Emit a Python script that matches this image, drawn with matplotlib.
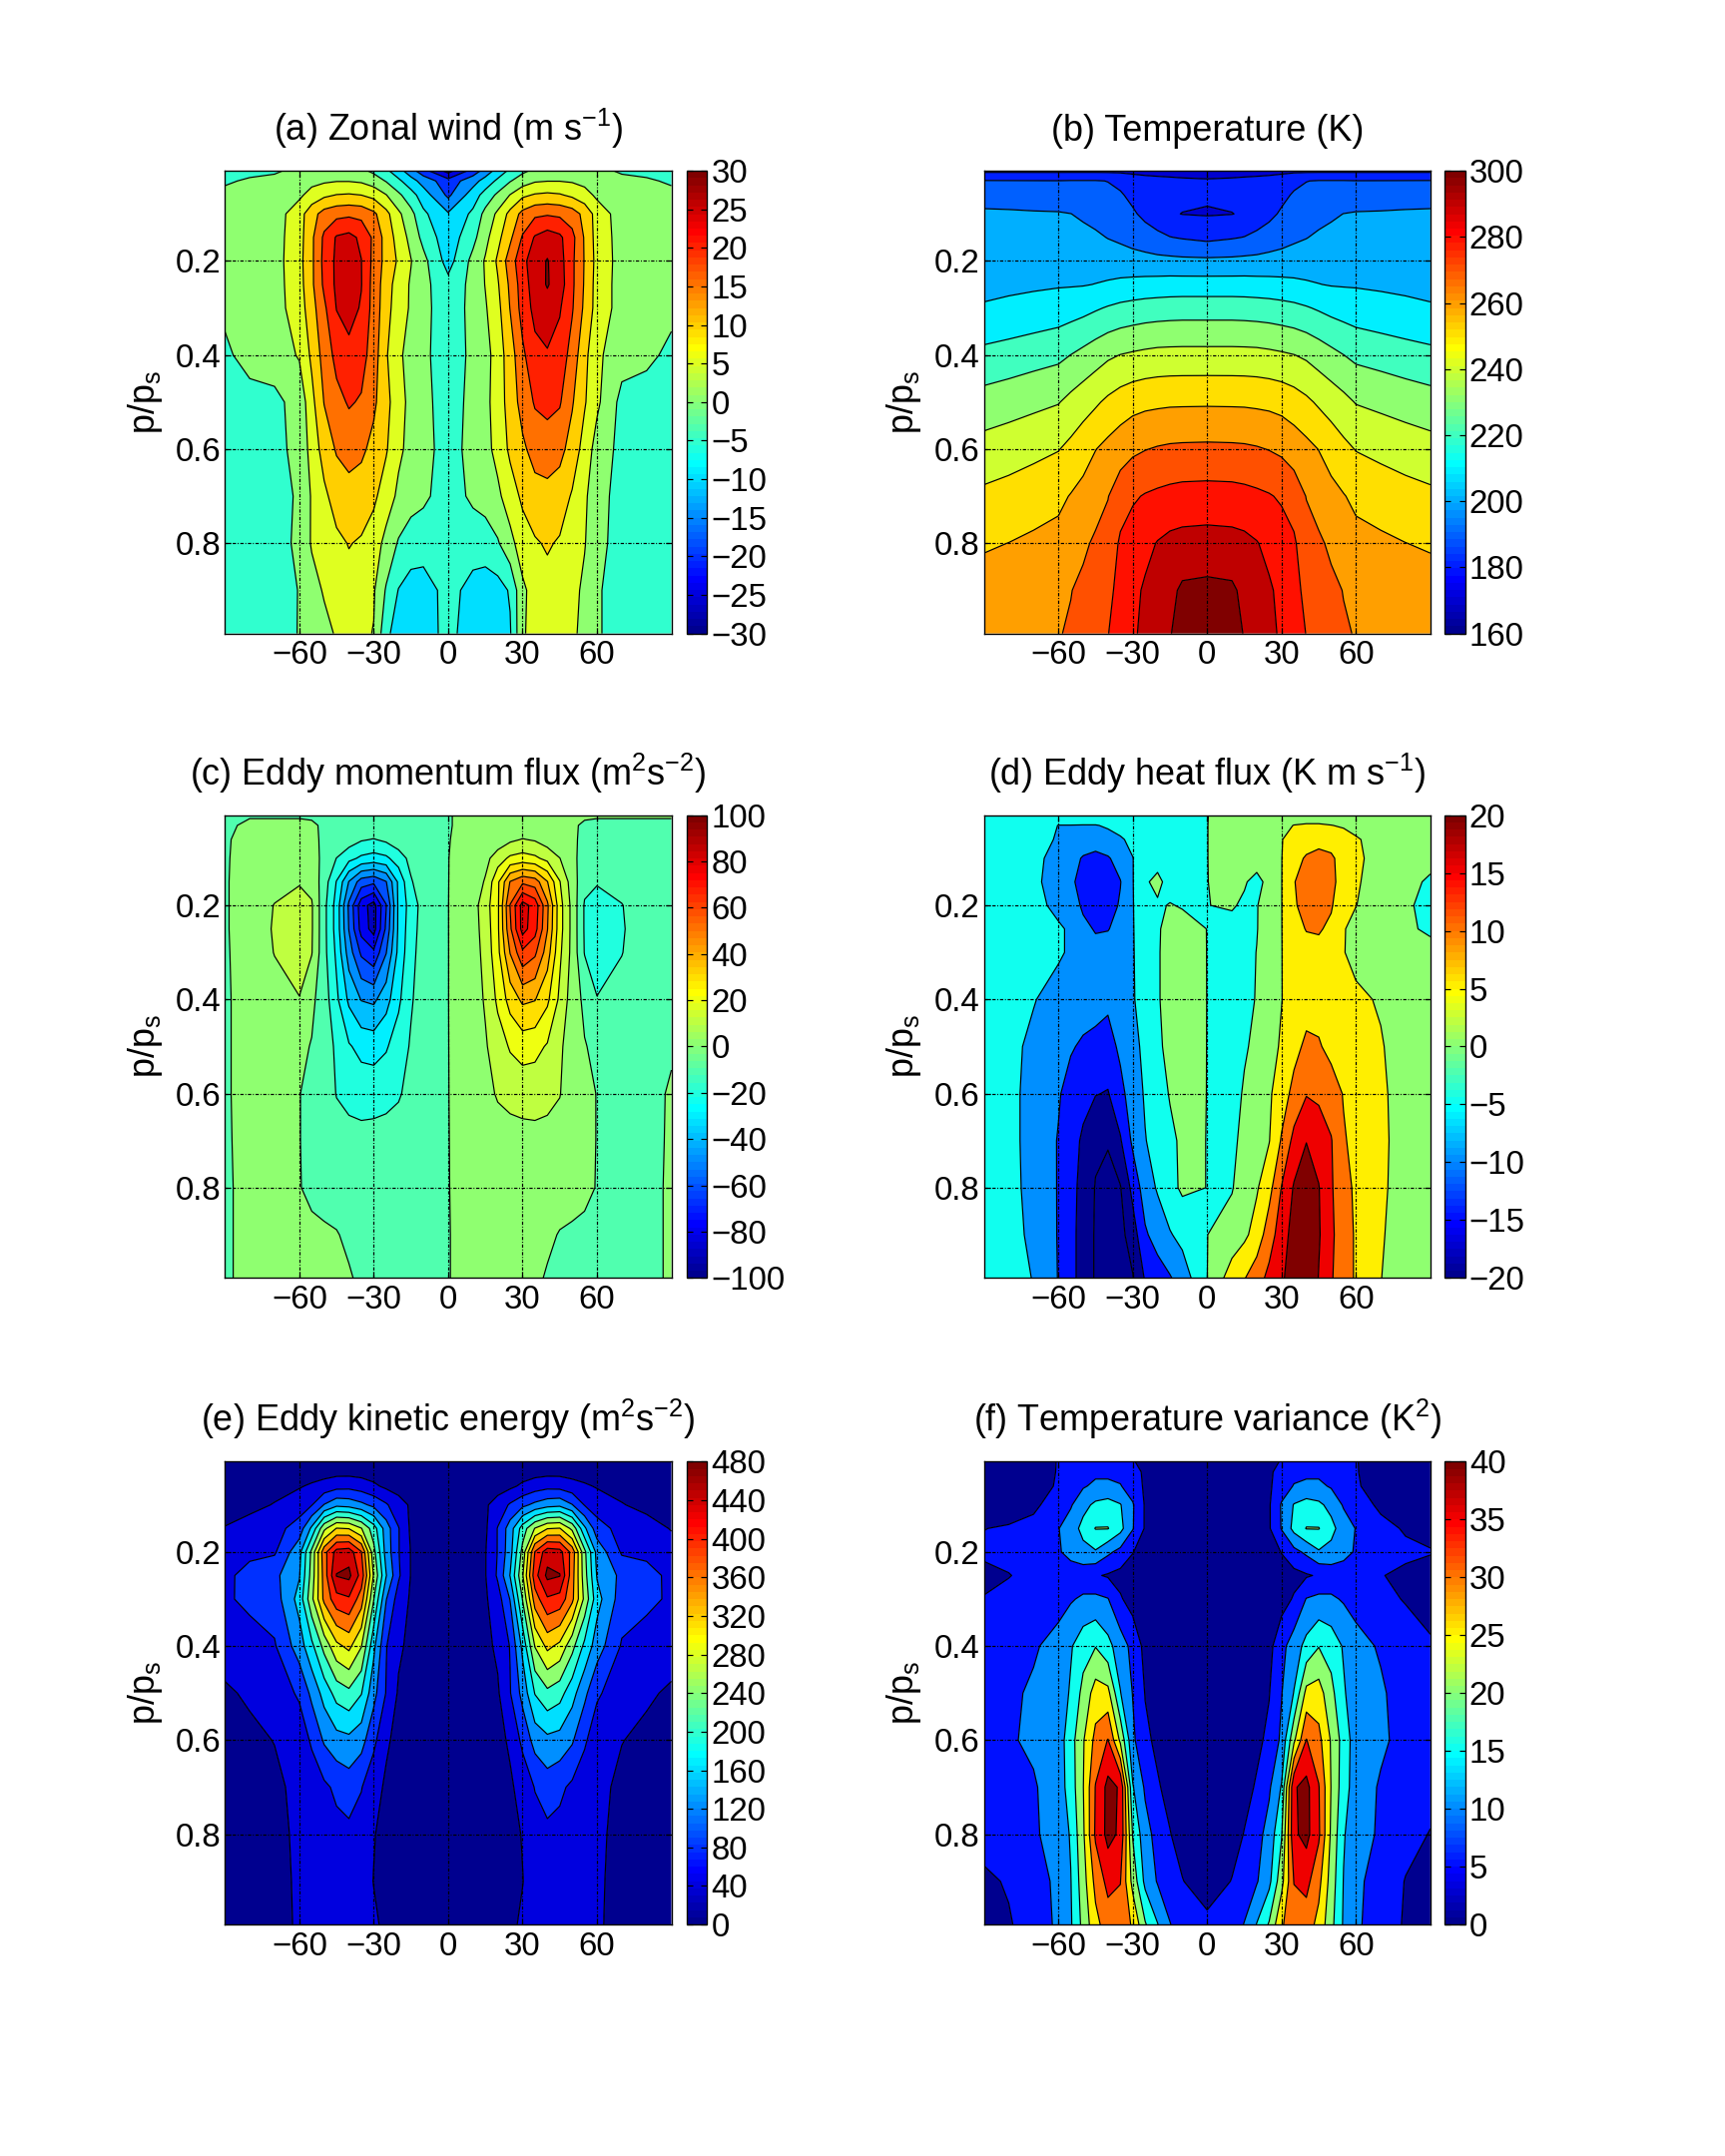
import numpy as np
import matplotlib
matplotlib.use("Agg")
import matplotlib.pyplot as plt
from matplotlib.colors import ListedColormap, Normalize
from matplotlib.cm import ScalarMappable

plt.rcParams["font.family"] = ["Liberation Sans", "DejaVu Sans"]
plt.rcParams["mathtext.fontset"] = "custom"
plt.rcParams["mathtext.rm"] = "Liberation Sans"
plt.rcParams["mathtext.it"] = "Liberation Sans:italic"
plt.rcParams["mathtext.bf"] = "Liberation Sans:bold"
plt.rcParams["mathtext.sf"] = "Liberation Sans"

# ---------------- grid ----------------
lat = [-90, -80, -70, -60, -55, -50, -45, -40, -35, -30, -25, -20, -15, -10, 0,
       10, 15, 20, 25, 30, 35, 40, 45, 50, 55, 60, 70, 80, 90]
sigma = [0.0083, 0.03, 0.06, 0.1, 0.15, 0.2, 0.25, 0.3, 0.4, 0.5, 0.6, 0.7, 0.8, 0.9, 0.9917]

# ---------------- (a) zonal wind, rows = sigma levels ----------------
u_rows = [
    [-2, -1, -0.5, 1, 1.5, 2, 2, 2, 1, -1, -4, -8, -13, -18, -27, -18, -13, -8, -4, -1, 1, 2, 2, 2, 1.5, 1, -0.5, -1, -2],
    [-0.5, 0.5, 1, 2.5, 3.5, 4.3, 4.8, 4.8, 4.3, 2.5, -0.3, -4, -8, -12, -18, -12, -8, -4, -0.3, 2.5, 4.5, 4.9, 4.9, 4.5, 3.5, 2.5, 1, 0.5, -0.5],
    [1, 1.5, 2, 4, 7, 9, 10.2, 10.5, 10, 8.5, 5.2, 1, -3, -7.5, -16, -7.5, -3, 1, 5.2, 9, 10.5, 11, 10.5, 9, 7, 4, 2, 1.5, 1],
    [1, 1.5, 2.5, 8, 13, 17, 18.5, 19, 18.5, 16, 11.5, 6, 1.5, -4, -9.5, -4, 1.5, 6, 11.5, 16.5, 19, 19.5, 19, 17.5, 13.5, 8, 2.5, 1.5, 1],
    [1.5, 2, 3, 8, 14, 21, 25.5, 26.5, 24, 19, 13, 8, 3.5, -1.5, -8, -1.5, 3.5, 8.5, 14, 20.5, 25.5, 27.5, 26, 21.5, 14.5, 8, 3, 2, 1.5],
    [2, 2, 3, 8.4, 14, 21.5, 26, 28.5, 25.1, 18.5, 13.3, 9.3, 5.2, 1.5, -7, 1.5, 5.5, 10.8, 17.5, 23.5, 28, 30.3, 27, 21, 14.7, 8.4, 3, 2, 2],
    [1.5, 2, 3, 8, 14, 21, 26, 28, 25.2, 18, 12.5, 7.5, 4.5, 1.5, -3.5, 1.5, 5.2, 9.5, 16, 22.5, 27.5, 30.4, 27.5, 21, 14.5, 8, 3, 2, 1.5],
    [0.5, 2, 3, 7.5, 13, 19, 25.2, 27, 24.5, 18, 12, 7, 4.5, 1.5, -3, 1.5, 4.5, 8.5, 15.2, 22, 26.5, 28, 25.5, 20.5, 14, 8, 3, 2, 0.5],
    [-0.5, 1, 2, 5.5, 11, 17, 21.5, 23.5, 22, 17.5, 10.5, 6, 3, 1, -2.5, 1, 3, 7.5, 12.5, 19, 23.5, 24.5, 23, 18, 11.5, 6, 2, 0.5, -0.5],
    [-1.5, -1, -1, 1.5, 8.5, 15.2, 18.5, 20.5, 19.5, 16, 11.5, 7, 3.5, 1.5, -2.5, 1.5, 3.5, 7.5, 12, 17, 20.5, 21.5, 20.5, 15.5, 10.5, 6, -1.5, -1, -1.5],
    [-2, -1.5, -1, 1, 7, 12, 15.5, 17, 16, 13.5, 10.5, 6, 3.5, 2, -2.5, 2, 3.5, 6.5, 11, 14, 17, 17.5, 16.5, 13, 8, 3, -1.5, -1.5, -2],
    [-2, -2, -1.5, 0.5, 5.5, 9, 12, 13, 12.5, 11, 7.5, 4, 2, 1, -2.5, 1, 2, 4, 7.5, 11, 13, 13.5, 12.5, 9.5, 6, 1.5, -1.5, -2, -2],
    [-2.5, -2.5, -2, 1, 5.5, 7, 9, 10.2, 9.5, 7.5, 3.5, -0.5, -2.5, -3, -3, -3, -2.5, -0.5, 3.5, 7.5, 9.5, 10.5, 9.5, 7, 5.3, 1.5, -2, -2.5, -2.5],
    [-3, -3, -2.5, 0.2, 3, 5.5, 7.5, 8.5, 7.5, 5.5, -0.5, -5.2, -7, -7, -3.5, -6.5, -7.5, -7, -4.5, 4, 7, 8.5, 8, 6.5, 4, 0.5, -2, -3, -3],
    [-3, -3, -2, 0.2, 2, 3.5, 5.5, 6.5, 6, 4.8, -3.5, -8, -9, -8, -3, -8.5, -9.5, -9, -5.5, 4.5, 6.5, 7.5, 7, 6, 3.5, 0.5, -2, -3, -3],
]

# ---------------- (b) temperature, columns = latitudes ----------------
T_cols = [
    [178, 190.6, 196.9, 201.2, 203.4, 205.7, 208.0, 210.7, 222.6, 234.0, 243.8, 252.0, 258.8, 264.5, 268.5],
    [178, 190.5, 196.4, 201.1, 203.5, 205.9, 208.3, 211.8, 224.2, 235.7, 245.6, 253.5, 260.1, 265.5, 269.0],
    [178, 190.4, 195.8, 200.8, 203.4, 206.1, 208.7, 213.1, 226.0, 237.6, 247.6, 255.3, 261.8, 266.0, 268.8],
    [178, 190.3, 195.5, 200.6, 203.4, 206.3, 209.2, 214.6, 227.7, 239.5, 249.6, 257.9, 262.9, 266.7, 269.5],
    [178, 190.6, 194.3, 200.1, 203.2, 206.3, 209.3, 215.7, 230.1, 242.7, 252.5, 260.5, 265.1, 269.7, 271.0],
    [178, 190.6, 193.9, 198.6, 202.6, 206.1, 209.5, 217.0, 232.7, 245.7, 256.0, 263.0, 268.2, 272.2, 274.0],
    [178, 190.6, 193.1, 196.9, 201.5, 205.7, 210.2, 218.9, 235.6, 248.6, 259.8, 265.8, 271.6, 275.0, 277.0],
    [178, 189.8, 192.3, 195.6, 199.7, 205.1, 211.1, 220.8, 238.4, 251.9, 262.8, 269.7, 273.4, 276.8, 279.7],
    [178, 187.5, 191.1, 194.3, 198.4, 204.3, 212.2, 222.4, 240.2, 254.6, 265.6, 275.4, 281.5, 284.0, 285.0],
    [177.5, 185.0, 187.5, 191.4, 196.7, 203.5, 213.0, 223.4, 241.3, 256.6, 268.2, 278.8, 284.5, 287.5, 288.5],
    [177, 183.5, 185.0, 187.5, 194.7, 203.2, 213.5, 224.3, 242.2, 257.7, 269.7, 280.7, 287.3, 291.3, 292.5],
    [177, 182.5, 183.5, 184.0, 192.5, 202.7, 213.9, 224.8, 242.9, 258.2, 270.8, 281.9, 290.5, 294.5, 296.0],
    [176.8, 182.0, 182.5, 181.0, 190.3, 202.6, 214.2, 225.2, 243.1, 258.6, 271.5, 282.9, 292.5, 297.5, 299.3],
    [176.5, 181.5, 182.0, 179.8, 189.2, 202.2, 214.3, 225.4, 243.2, 258.7, 271.8, 283.6, 293.4, 301.7, 305.0],
    [176, 181.0, 181.0, 179.3, 187.5, 202.0, 214.3, 225.4, 243.2, 258.8, 272.0, 283.9, 293.9, 302.5, 306.0],
    [176.5, 181.5, 182.0, 179.8, 189.2, 202.2, 214.3, 225.4, 243.2, 258.7, 271.8, 283.6, 293.4, 301.7, 305.0],
    [176.8, 182.0, 182.5, 181.0, 190.3, 202.6, 214.2, 225.2, 243.1, 258.6, 271.5, 282.9, 292.5, 297.5, 299.3],
    [177, 182.5, 183.5, 184.0, 192.5, 202.7, 213.9, 224.8, 242.9, 258.2, 270.8, 281.9, 290.5, 294.5, 296.0],
    [177, 183.5, 185.0, 187.5, 194.7, 203.2, 213.5, 224.3, 242.2, 257.7, 269.7, 280.7, 287.3, 291.3, 292.5],
    [177.5, 185.0, 187.5, 191.4, 196.7, 203.5, 213.0, 223.4, 241.3, 256.6, 268.2, 278.8, 284.5, 287.5, 288.5],
    [178, 187.5, 191.1, 194.3, 198.4, 204.3, 212.2, 222.4, 240.2, 254.6, 265.6, 275.4, 281.5, 284.0, 285.0],
    [178, 189.8, 192.3, 195.6, 199.7, 205.1, 211.1, 220.8, 238.4, 251.9, 262.8, 269.7, 273.4, 276.8, 279.7],
    [178, 190.6, 193.1, 196.9, 201.5, 205.7, 210.2, 218.9, 235.6, 248.6, 259.8, 265.8, 271.6, 275.0, 277.0],
    [178, 190.6, 193.9, 198.6, 202.6, 206.1, 209.5, 217.0, 232.7, 245.7, 256.0, 263.0, 268.2, 272.2, 274.0],
    [178, 190.6, 194.3, 200.1, 203.2, 206.3, 209.3, 215.7, 230.1, 242.7, 252.5, 260.5, 265.1, 269.7, 271.0],
    [178, 190.3, 195.5, 200.6, 203.4, 206.3, 209.2, 214.6, 227.7, 239.5, 249.6, 257.9, 262.9, 266.7, 269.5],
    [178, 190.4, 195.8, 200.8, 203.4, 206.1, 208.7, 213.1, 226.0, 237.6, 247.6, 255.3, 261.8, 266.0, 268.8],
    [178, 190.5, 196.4, 201.1, 203.5, 205.9, 208.3, 211.8, 224.2, 235.7, 245.6, 253.5, 260.1, 265.5, 269.0],
    [178, 190.6, 196.9, 201.2, 203.4, 205.7, 208.0, 210.7, 222.6, 234.0, 243.8, 252.0, 258.8, 264.5, 268.5],
]

# ---------------- (c) eddy momentum flux, columns ----------------
uv_cols = [
    [-0.5, -1, -1, -1, -1, -1, -1, -1, -1, -1, -1, -1, -1, -1, -1],
    [-0.5, 1, 3, 4, 5, 5, 5, 4, 3, 3, 3, 2.5, 2, 2, 2],
    [-0.5, 1, 3, 5, 7, 10.3, 10.8, 10.3, 6.5, 5, 4, 3, 2, 2.5, 3],
    [-0.5, 1, 3, 6, 9.5, 12.5, 13, 12.5, 9.8, 2, 0.2, 0.2, 0.3, 2.5, 3],
    [-0.5, 0.5, 2, 4, 7, 11, 11, 10.5, 2, -0.5, -2, -2, -1.5, 1.5, 2.5],
    [-0.5, -0.5, -1.5, -2.5, -5, -7, -7, -7, -5, -4, -3, -2.5, -2.5, 1, 2],
    [-0.5, -1, -2, -10.2, -20.5, -24, -24, -22, -18, -12, -10.5, -5, -2.5, 0.3, 1.2],
    [-0.5, -2, -5, -17, -40.5, -52, -50.5, -45, -32, -19, -13, -6.5, -3, -1, 0.5],
    [-0.5, -2.5, -9, -22, -55, -76, -74, -62, -40.5, -23, -14, -7, -3, -2, -1],
    [-0.5, -3, -10.5, -24, -58, -84, -84, -68, -42, -24, -14, -6.5, -3, -2.5, -2],
    [-0.5, -2.5, -8, -22, -50.5, -60.5, -58, -50.5, -34, -21, -13, -6, -3, -2.5, -2],
    [-0.5, -1.5, -4, -15, -28, -28, -28, -27, -22, -15, -11, -5.5, -2.5, -2, -2],
    [-0.5, -1, -2, -7, -11, -15.5, -14, -13, -11, -9, -7, -4, -2.5, -1.5, -1.5],
    [-0.5, -0.5, -1, -3, -4, -6, -6, -5.5, -5.5, -4, -3, -2, -1.5, -1, -1],
    [-0.1, -0.1, -0.1, -0.1, -0.1, -0.1, -0.1, -0.1, -0.1, -0.1, -0.1, -0.1, -0.1, -0.1, -0.1],
    [0.5, 0.5, 1, 3, 4, 6, 6, 5.5, 5.5, 4, 3, 2, 1.5, 1, 1],
    [0.5, 1, 2, 7, 11, 15.5, 14, 13, 11, 9, 7, 4, 2.5, 1.5, 1.5],
    [0.5, 1.5, 4, 15, 28, 28, 28, 27, 22, 15, 11, 5.5, 2.5, 2, 2],
    [0.5, 2.5, 8, 22, 50.5, 60.5, 58, 50.5, 34, 21, 13, 6, 3, 2.5, 2],
    [0.5, 3, 10.5, 24, 58, 84, 84, 68, 42, 24, 14, 6.5, 3, 2.5, 2],
    [0.5, 2.5, 9, 22, 55, 76, 74, 62, 40.5, 23, 14, 7, 3, 2, 1],
    [0.5, 2, 5, 17, 40.5, 52, 50.5, 45, 32, 19, 13, 6.5, 3, 1, -0.5],
    [0.5, 1, 2, 10.2, 20.5, 24, 24, 22, 18, 12, 10.5, 5, 2.5, -0.3, -1.2],
    [0.5, 0.5, 1.5, 2.5, 5, 7, 7, 7, 5, 4, 3, 2.5, 2.5, -1, -2],
    [0.5, -0.5, -2, -4, -7, -11, -11, -10.5, -2, 0.5, 2, 2, 1.5, -1.5, -2.5],
    [0.5, -1, -3, -6, -9.5, -12.5, -13, -12.5, -9.8, -2, -0.2, -0.2, -0.3, -2.5, -3],
    [0.5, -1, -3, -5, -7, -10.3, -10.8, -10.3, -6.5, -5, -4, -3, -2, -2.5, -3],
    [0.5, -1, -3, -4, -5, -5, -5, -4, -3, -3, -3, -2.5, -2, -2, -2],
    [0.5, -1, -1, -1, -1, -1, -1, -1, -1, -1, 1, 1, 1, 1, 1],
]

# ---------------- (d) eddy heat flux, columns ----------------
vT_cols = [
    [-1, -2, -2, -2, -2, -2, -2, -2, -2, -2, -2, -2, -2, -2, -2],
    [-1, -2, -2.5, -3, -3, -3, -3, -3, -3.5, -4, -4, -4, -4, -4, -4],
    [-1, -2, -3, -3.5, -3.8, -3.8, -3.8, -4, -4.8, -5.8, -6.2, -6.2, -6, -5.6, -5.1],
    [-1.5, -5.1, -5.5, -7, -7.5, -6, -4.5, -4.5, -6.5, -8.5, -9.5, -10.3, -10.3, -10.3, -10.2],
    [-1.5, -5.1, -6, -8, -9, -7, -5.5, -5.5, -7, -9.5, -12, -13, -13.5, -13.5, -13.5],
    [-1.5, -5.2, -7, -10.5, -12, -11, -8.5, -7, -7.5, -10.8, -13.5, -15.8, -16.5, -17, -17],
    [-1.5, -5.2, -7.5, -11.5, -13.5, -12.5, -10.5, -8, -8, -11.5, -14.8, -19, -20.3, -20.5, -20.5],
    [-1.5, -4.5, -6.5, -10.5, -12.5, -12, -10.2, -8, -9, -12, -15.3, -19.5, -22, -23, -23],
    [-1.5, -3.5, -5.5, -8, -10.2, -9.5, -8.5, -7.5, -8, -9, -11.5, -15.5, -20.3, -21.5, -22],
    [-1.5, -2.5, -4, -5.1, -5.2, -5.2, -5.2, -5.2, -5.2, -6, -7.5, -9, -13.5, -17.5, -20.3],
    [-1.5, -2, -2.5, -2.5, -0.5, -2, -3, -3.5, -4, -4.2, -4.5, -5.2, -7.5, -10.7, -14.5],
    [-1.5, -2, -2, -1.5, 1, -0.5, -0.5, -0.5, -0.5, -1, -2, -3.2, -4.5, -7.9, -12.4],
    [-1.5, -2, -2, -2, -1.5, 0.2, 1.5, 2, 2, 1.5, 0.3, -1, -1.5, -5.4, -10.4],
    [-1.5, -1.8, -1.5, -1.5, -1, -0.3, 1.5, 2, 2.5, 2, 1.5, 0.8, 0.8, -3.5, -7.7],
    [-0.05, -0.05, -0.05, -0.05, -0.05, -0.05, -0.05, -0.05, -0.05, -0.05, -0.05, -0.05, -0.05, -0.05, -0.05],
    [1, 1.5, 1.5, 1.5, 1, 0.3, -1, -1.5, -2, -2, -1.8, -1.2, -0.3, 2, 7.5],
    [1.5, 2, 2, 1.5, 0.3, -0.5, -1.5, -1.5, -1.5, -0.5, 0.5, 1.5, 2.5, 4, 9.7],
    [1.5, 2, 2, 1.5, -1, -0.2, -0.2, 0.1, 0.3, 1, 2, 3, 4.5, 7, 12.9],
    [1.5, 2.5, 3, 3, 1, 2, 2.5, 2.5, 3, 3.5, 4.3, 4.8, 8.3, 12.7, 16.3],
    [2, 4, 4.8, 4.9, 4.9, 4.9, 4.9, 4.9, 4.9, 5.5, 7.6, 10.5, 15.2, 17.6, 19.4],
    [2.5, 5.1, 7, 8.5, 9.8, 9.5, 8.5, 7.5, 7, 8.5, 11.5, 16.5, 20.5, 22, 22],
    [2.5, 5.5, 8, 10.5, 12, 11.5, 10.2, 8.5, 8, 11, 14.7, 19.8, 24, 25, 24.5],
    [2.5, 5.5, 8.5, 11.5, 13, 12, 10.5, 8.5, 8, 10.5, 14, 18, 20.2, 20.5, 19.8],
    [2, 5.1, 8, 10.8, 11.5, 10.5, 9, 7.5, 7, 8.5, 12.5, 15.3, 15.5, 16, 15.5],
    [2, 4.5, 7, 8, 7.5, 6.5, 5.3, 5.2, 6, 7.5, 9.7, 10.5, 12, 12, 12],
    [1.5, 3.5, 5.5, 6, 5.5, 5.1, 3.5, 3.5, 6, 7, 8, 8.5, 9, 9.5, 9.5],
    [1, 2, 3, 3, 3, 2.5, 2, 2, 4.5, 5.4, 5.8, 6, 5.8, 5.5, 5.1],
    [1, 1.5, 2, 1.5, 1, 0.5, 0.5, 1, 1.5, 2.5, 3, 3, 3, 2.5, 2.5],
    [1, 1.5, 1.5, 1, -0.5, -1, -0.5, 1, 1.5, 2, 2, 2, 2, 2, 2],
]

# ---------------- (e) eddy kinetic energy, columns ----------------
eke_cols = [
    [5, 8, 15, 22, 42, 55, 70, 75, 55, 35, 25, 20, 15, 12, 10],
    [5, 10, 20, 30, 55, 70, 95, 88, 65, 45, 32, 25, 20, 16, 14],
    [6, 14, 28, 42, 65, 75, 110, 100, 76, 60, 41, 32, 28, 25, 24],
    [8, 20, 37, 60, 98, 147, 157, 175, 140, 85, 60, 50, 48, 47, 46],
    [9, 23, 45, 78, 168, 250, 257, 270, 190, 130, 85, 60, 55, 52, 50],
    [10, 25, 55, 122, 270, 385, 377, 370, 253, 175, 125, 72, 62, 56, 54],
    [11, 28, 66, 150, 322, 455, 482, 425, 310, 215, 145, 88, 68, 60, 56],
    [11, 28, 68, 145, 318, 462, 490, 435, 330, 230, 150, 100, 70, 60, 56],
    [10, 26, 60, 130, 282, 402, 425, 380, 282, 202, 135, 82, 62, 55, 54],
    [9, 22, 47, 110, 218, 253, 275, 242, 170, 133, 90, 52, 42, 39, 46],
    [8, 18, 32, 85, 140, 144, 162, 122, 82, 78, 45, 35, 28, 25, 32],
    [7, 15, 25, 55, 82, 82, 86, 62, 47, 35, 30, 25, 20, 17, 18],
    [6, 13, 20, 35, 33, 38, 38, 35, 30, 25, 22, 20, 16, 14, 12],
    [6, 12, 15, 25, 22, 25, 25, 25, 22, 20, 18, 16, 14, 12, 10],
    [8, 12, 12, 15, 15, 15, 15, 15, 15, 14, 13, 12, 11, 10, 9],
    [6, 12, 15, 25, 22, 25, 25, 25, 22, 20, 18, 16, 14, 12, 10],
    [6, 13, 20, 35, 33, 38, 38, 35, 30, 25, 22, 20, 16, 14, 12],
    [7, 15, 25, 55, 82, 82, 86, 62, 47, 35, 30, 25, 20, 17, 18],
    [8, 18, 32, 85, 140, 144, 162, 122, 82, 78, 45, 35, 28, 25, 32],
    [9, 22, 47, 110, 218, 253, 275, 242, 170, 133, 90, 52, 42, 39, 46],
    [10, 26, 60, 130, 282, 402, 425, 380, 282, 202, 135, 82, 62, 55, 54],
    [11, 28, 68, 145, 318, 462, 490, 435, 330, 230, 150, 100, 70, 60, 56],
    [11, 28, 66, 150, 322, 455, 482, 425, 310, 215, 145, 88, 68, 60, 56],
    [10, 25, 55, 122, 270, 385, 377, 370, 253, 175, 125, 72, 62, 56, 54],
    [9, 23, 45, 78, 168, 250, 257, 270, 190, 130, 85, 60, 55, 52, 50],
    [8, 20, 37, 60, 98, 147, 157, 175, 140, 85, 60, 50, 48, 47, 46],
    [6, 14, 28, 42, 65, 75, 110, 100, 76, 60, 41, 32, 28, 25, 24],
    [5, 10, 20, 30, 55, 70, 95, 88, 65, 45, 32, 25, 20, 16, 14],
    [5, 8, 15, 22, 38, 55, 70, 75, 55, 35, 25, 20, 15, 12, 10],
]

# ---------------- (f) temperature variance, columns ----------------
tvar_cols = [
    [1, 1.2, 1.5, 2, 4.9, 6, 3.5, 5.3, 7, 8, 8, 8, 7, 4, 3],
    [1.5, 1.5, 2, 2.5, 5.5, 6.5, 4.8, 6.5, 8, 9.2, 9.5, 9.5, 8.5, 5.5, 4.5],
    [3, 2.5, 3, 4, 6.5, 7.5, 6.5, 7.5, 9.5, 10.6, 10.8, 9.5, 9.5, 8, 7.5],
    [5.2, 5.3, 5.5, 7.5, 9.8, 9.5, 7.5, 8.5, 11.5, 12, 12.5, 12.5, 11.5, 11, 10.8],
    [6, 6.5, 7, 9.5, 12.5, 11.5, 7.5, 9.5, 14.5, 15.6, 17.8, 17.2, 15.5, 14.8, 14.4],
    [7, 8, 9.5, 13.5, 16.5, 13.5, 7, 10.8, 18, 21.5, 24.5, 24.8, 24.1, 22.8, 21.5],
    [7.5, 9, 11, 16, 20.2, 14.5, 5.5, 11.2, 19.8, 27.2, 31.5, 35.3, 35.8, 31.5, 28.5],
    [7.5, 9, 11, 17, 20.2, 11, 4.5, 10.2, 16.5, 26.5, 35.2, 41.5, 41.5, 36.5, 32.5],
    [7, 8.5, 10.3, 15.3, 16.5, 8.5, 3.5, 5.5, 12.5, 15.2, 24, 39.5, 39.2, 35.2, 32.5],
    [5.5, 6.5, 7.5, 10.5, 10.3, 5.2, 2.5, 3, 8.5, 9.8, 11, 15.4, 19.6, 23.3, 29.5],
    [3, 4.3, 4.3, 4.5, 4.5, 2.5, 2, 2, 3.5, 4.8, 6, 9.3, 11.8, 13.7, 20.5],
    [1.5, 2, 2, 2, 2, 1.5, 1.5, 1.5, 2, 3, 4, 5.5, 8.3, 9.6, 15.2],
    [1, 1.5, 1.5, 1.5, 1.5, 1, 1, 1, 1.5, 2, 2, 3.5, 5.2, 7.2, 10.2],
    [1, 1, 1, 1, 1, 1, 1, 1, 1, 1.5, 1.5, 2.5, 3, 5.2, 7.5],
    [0.8, 0.8, 0.8, 0.8, 0.8, 1, 1, 1, 1, 1, 1, 1.2, 1.5, 2, 6.5],
    [1, 1, 1, 1, 1, 1, 1, 1, 1, 1.5, 1.5, 2.5, 3, 5.2, 7.5],
    [1, 1.5, 1.5, 1.5, 1.5, 1, 1, 1, 1.5, 2, 2, 3.5, 5.2, 7.2, 10.2],
    [1.5, 2, 2, 2, 2, 1.5, 1.5, 1.5, 2, 3, 4, 5.5, 8.3, 9.6, 15.2],
    [3, 4.3, 4.3, 4.5, 4.5, 2.5, 2, 2, 3.5, 4.8, 6, 9.3, 11.8, 13.7, 20.5],
    [5.5, 6.5, 7.5, 10.5, 10.3, 5.2, 2.5, 3, 8.5, 9.8, 11, 15.4, 19.6, 23.3, 29.5],
    [7, 8.5, 10.3, 15.3, 16.5, 8.5, 3.5, 5.5, 12.5, 15.2, 24, 39.5, 39.2, 35.2, 32.5],
    [7.5, 9, 11, 17, 20.2, 11, 4.5, 10.2, 16.5, 26.5, 35.2, 41.5, 41.5, 36.5, 32.5],
    [7.5, 9, 11, 16, 20.2, 14.5, 5.5, 11.2, 19.8, 27.2, 31.5, 35.3, 35.8, 31.5, 28.5],
    [7, 8, 9.5, 13.5, 16.5, 13.5, 7, 10.8, 18, 21.5, 24.5, 24.8, 24.1, 22.8, 21.5],
    [6, 6.5, 7, 9.5, 12.5, 11.5, 7.5, 9.5, 14.5, 15.6, 17.8, 17.2, 15.5, 14.8, 14.4],
    [5.2, 5.3, 5.5, 7.5, 9.8, 9.5, 7.5, 8.5, 11.5, 12, 12.5, 12.5, 11.5, 11, 10.8],
    [3, 2.5, 3, 4, 6.5, 7.5, 5.2, 5.8, 9.5, 10.6, 10.8, 9.5, 9.5, 8, 7.5],
    [1.5, 1.5, 2, 2.5, 4.5, 6, 4, 4.8, 6.5, 8, 8.5, 8, 6.5, 4.8, 4.5],
    [1, 1.2, 1.5, 2, 3.5, 5.3, 3, 3.5, 5.5, 7, 7, 6.5, 4.8, 3.5, 3],
]

# ---------------- tick labels / titles ----------------
x_ticks = [-60, -30, 0, 30, 60]
y_ticks = [0.2, 0.4, 0.6, 0.8]
y_ticklabels = ["0.2", "0.4", "0.6", "0.8"]
titles = [r"(a) Zonal wind (m s$^{-1}$)",
          r"(b) Temperature (K)",
          r"(c) Eddy momentum flux (m$^{2}$s$^{-2}$)",
          r"(d) Eddy heat flux (K m s$^{-1}$)",
          r"(e) Eddy kinetic energy (m$^{2}$s$^{-2}$)",
          r"(f) Temperature variance (K$^{2}$)"]
ranges = [(-30, 30, 5), (160, 300, 10), (-100, 100, 10),
          (-20, 20, 5), (0, 480, 40), (0, 40, 5)]
cbar_ticks = [list(range(-30, 31, 5)), list(range(160, 301, 20)),
              list(range(-100, 101, 20)), list(range(-20, 21, 5)),
              list(range(0, 481, 40)), list(range(0, 41, 5))]


def matlab_jet(m=64):
    n = int(np.ceil(m / 4))
    u = np.concatenate([np.arange(1, n + 1) / n, np.ones(n - 1), np.arange(n, 0, -1) / n])
    g = int(np.ceil(n / 2)) - (1 if m % 4 == 1 else 0) + np.arange(1, len(u) + 1)
    r = g + n
    b = g - n
    J = np.zeros((m, 3))
    ri = r[r <= m]
    gi = g[g <= m]
    bi = b[b >= 1]
    J[ri - 1, 0] = u[:len(ri)]
    J[gi - 1, 1] = u[:len(gi)]
    J[bi - 1, 2] = u[len(u) - len(bi):]
    return J


JET = matlab_jet(64)
jet_cmap = ListedColormap(JET)


def band_color(v, cmin, cmax):
    i = int(np.floor((v - cmin) / (cmax - cmin) * 64 + 1e-9))
    return tuple(JET[min(max(i, 0), 63)])


fields = [np.array(u_rows, dtype=float),
          np.array(T_cols, dtype=float).T,
          np.array(uv_cols, dtype=float).T,
          np.array(vT_cols, dtype=float).T,
          np.array(eke_cols, dtype=float).T,
          np.array(tvar_cols, dtype=float).T]

fig = plt.figure(figsize=(8, 10), dpi=216)
ax_left = [0.1304, 0.5704]
cb_left = [0.3979, 0.8374]
bottoms = [0.7062, 0.4073, 0.1074]
AW, AH, CW = 0.2588, 0.2146, 0.0121

X = np.array(lat, dtype=float)
Y = np.array(sigma, dtype=float)
grid_style = (0, (2.75, 1.4, 0.8, 1.4))

for k in range(6):
    row, col = divmod(k, 2)
    Z = fields[k]
    cmin, cmax, step = ranges[k]
    levels = np.arange(cmin, cmax + step * 0.5, step)
    fill_levels = np.concatenate([[-1e6], levels, [1e6]])
    fill_colors = [tuple(JET[0])] + [band_color(v, cmin, cmax) for v in levels]

    ax = fig.add_axes([ax_left[col], bottoms[row], AW, AH])
    ax.contourf(X, Y, Z, levels=fill_levels, colors=fill_colors, antialiased=True)
    ax.contour(X, Y, Z, levels=levels, colors="k", linewidths=0.4,
               linestyles="solid")
    ax.set_xlim(-90, 90)
    ax.set_ylim(0.9917, 0.0083)
    ax.set_xticks(x_ticks)
    ax.set_yticks(y_ticks)
    ax.set_yticklabels(y_ticklabels)
    ax.set_axisbelow(False)
    ax.grid(True, color="k", linestyle=grid_style, linewidth=0.4)
    ax.tick_params(direction="in", length=2.0, width=0.4, top=True, right=True,
                   labelsize=11)
    ax.tick_params(axis="y", pad=1.4)
    ax.tick_params(axis="x", pad=2.2)
    for s in ax.spines.values():
        s.set_linewidth(0.45)
    ax.set_ylabel(r"p/p$_{\rm s}$", fontsize=12, labelpad=3.5)
    ax.set_title(titles[k], fontsize=12, pad=10)

    cax = fig.add_axes([cb_left[col], bottoms[row], CW, AH])
    sm = ScalarMappable(norm=Normalize(cmin, cmax), cmap=jet_cmap)
    cb = fig.colorbar(sm, cax=cax, ticks=cbar_ticks[k])
    cb.outline.set_linewidth(0.45)
    cax.tick_params(direction="in", length=2.0, width=0.4, left=True, right=True,
                    labelsize=11, pad=1.3)

fig.savefig("out.png", dpi=216, facecolor="white")
